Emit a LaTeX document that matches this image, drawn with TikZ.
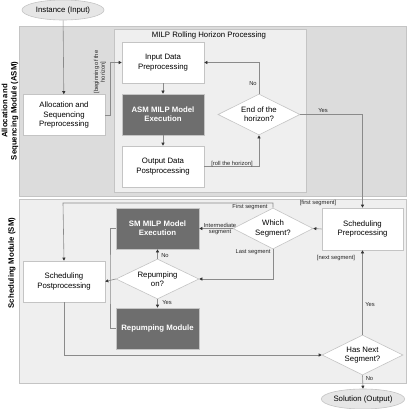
\documentclass[tikz,border=0pt]{standalone}
\usepackage{fontspec}
\setmainfont{Liberation Sans}
\usetikzlibrary{shapes.geometric,arrows.meta,calc}
\definecolor{linegray}{HTML}{8A8A8A}
\definecolor{bordergray}{HTML}{C4C4C4}
\definecolor{asmbg}{HTML}{DCDCDC}
\definecolor{lightbg}{HTML}{EFEFEF}
\definecolor{darkbox}{HTML}{6E6E6E}
\definecolor{ellbg}{HTML}{E6E6E6}
\begin{document}
\begin{tikzpicture}[x=1pt,y=-1pt,
  txt/.style={font=\fontsize{7.8}{9.3}\selectfont, align=center},
  small/.style={font=\fontsize{5.8}{6.8}\selectfont, align=center, inner sep=0.5pt, text=black!85},
  wbox/.style={txt, draw=bordergray, fill=white, line width=0.6pt, minimum width=82pt, minimum height=41pt, inner sep=1pt},
  dbox/.style={txt, draw=bordergray, fill=darkbox, text=white, line width=0.6pt, minimum width=83pt, minimum height=41pt, inner sep=1pt, font=\fontsize{7.8}{9.3}\selectfont\bfseries},
  dia/.style={txt, draw=bordergray, fill=white, line width=0.6pt, diamond, aspect=2, inner sep=0pt, minimum width=82pt, minimum height=41pt},
  ell/.style={txt, draw=bordergray, fill=ellbg, ellipse, line width=0.6pt, minimum width=82pt, minimum height=20pt, inner sep=0pt},
  panel/.style={draw=bordergray, line width=0.6pt},
  side/.style={font=\fontsize{7.8}{9.3}\selectfont\bfseries, align=center, rotate=90},
  arr/.style={draw=linegray, line width=0.6pt, -{Triangle[length=3pt,width=3pt,color=black!80]}},
  ln/.style={draw=linegray, line width=0.6pt}
]
\fill[white] (0,0) rectangle (407,409);
\useasboundingbox (0,0) rectangle (407,409);

% panels
\draw[panel, fill=asmbg] (19,26) rectangle (406,196);
\draw[panel, fill=lightbg] (114,29) rectangle (306,192);
\draw[panel, fill=lightbg] (19,199) rectangle (406,383);

\node[txt] (title) at (209,35) {MILP Rolling Horizon Processing};
\node[side] (asmlbl) at (10,111) {Allocation and\\Sequencing Module (ASM)};
\node[side] (smlbl) at (12,263) {Scheduling Module (SM)};

% nodes ASM
\node[ell] (inst) at (63,10) {Instance (Input)};
\node[wbox] (alloc) at (64,115) {Allocation and\\Sequencing\\Preprocessing};
\node[wbox] (inp) at (163,62.5) {Input Data\\Preprocessing};
\node[dbox, minimum width=82pt] (asmexec) at (163,114.5) {ASM MILP Model\\Execution};
\node[wbox] (outp) at (163,166.5) {Output Data\\Postprocessing};
\node[dia] (endh) at (259,114.5) {End of the\\horizon?};

% nodes SM
\node[dbox] (smexec) at (157.5,228.5) {SM MILP Model\\Execution};
\node[dia, minimum width=83pt, minimum height=40pt] (rep) at (157.5,279) {Repumping\\on?};
\node[dbox] (repmod) at (157.5,328.5) {Repumping Module};
\node[wbox] (post) at (64,281.5) {Scheduling\\Postprocessing};
\node[dia, minimum width=80pt] (which) at (273,228.5) {Which\\Segment?};
\node[wbox, minimum width=81pt, minimum height=42pt] (schedpre) at (362.5,229) {Scheduling\\Preprocessing};
\node[dia, minimum width=81pt, minimum height=40pt] (hasnext) at (362.5,355) {Has Next\\Segment?};
\node[ell] (sol) at (363,399) {Solution (Output)};

\coordinate (fs) at (63,203);
\coordinate (bx) at (110,280);

% connectors ASM
\draw[arr] (inst) -- (alloc);
\draw[arr] (alloc.east) -- ++(5,0) |- (inp.west);
\draw[arr] (inp) -- (asmexec);
\draw[arr] (asmexec) -- (outp);
\draw[arr] (outp.east) -| (endh.south);
\draw[arr] (endh.north) |- (inp.east);
\draw[arr] (endh.east) -| (schedpre.north);

% connectors SM
\draw[arr] (schedpre.west) -- (which.east);
\draw[arr] (which.west) -- (smexec.east);
\draw[arr] (which.north) |- (fs) -- (post.north);
\draw[arr] (which.south) |- (rep.east);
\draw[arr] (rep.north) -- (smexec.south);
\draw[arr] (rep.south) -- (repmod.north);
\draw[arr] (rep.west) -- (post.east);
\draw[ln] (smexec.west) -| (bx) |- (repmod.west);
\draw[arr] (post.south) |- (hasnext.west);
\draw[arr] (hasnext.north) -- (schedpre.south);
\draw[arr] (hasnext.south) -- (sol.north);

% labels
\node[small, rotate=90] (lbeg) at (100,72) {[beginning of the\\horizon]};
\node[small] (lroll) at (232,163.5) {[roll the horizon]};
\node[small] (lno1) at (253,84) {No};
\node[small] (lyes1) at (323,110.5) {Yes};
\node[small] (lfirst) at (318,203) {[first segment]};
\node[small] (linter) at (220,229) {Intermediate\\segment};
\node[small] (lfs) at (250,206.5) {First segment};
\node[small] (lls) at (253,252) {Last segment};
\node[small] (lno2) at (165,255.5) {No};
\node[small] (lyes2) at (167,303) {Yes};
\node[small] (lnext) at (336,258) {[next segment]};
\node[small] (lyes3) at (370,305) {Yes};
\node[small] (lno3) at (369.5,378.5) {No};
\end{tikzpicture}
\end{document}
